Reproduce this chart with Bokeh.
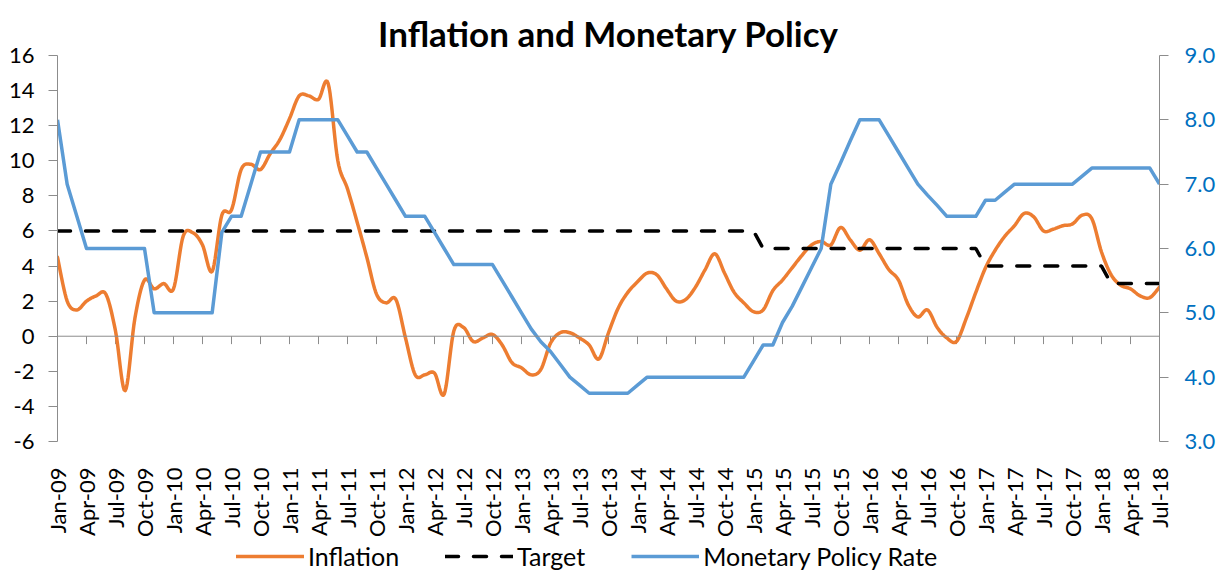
import numpy as np
import pandas as pd
from math import pi
from bokeh.plotting import figure
from bokeh.layouts import column
from bokeh.models import (Range1d, LinearAxis, FixedTicker, NumeralTickFormatter,
                          Span, Legend, LegendItem)
from bokeh.embed import file_html
from bokeh.resources import INLINE

# ---------------- data ----------------
months = list(pd.date_range("2009-01-01", periods=115, freq="MS").strftime("%b-%y"))

inflation = [
    4.5, 2.0, 1.5, 2.0, 2.3, 2.4, 0.3, -3.1, 1.0, 3.2, 2.7, 3.0,      # 2009
    2.7, 5.7, 5.9, 5.2, 3.7, 6.9, 7.2, 9.5, 9.8, 9.5, 10.4, 11.2,     # 2010
    12.4, 13.7, 13.7, 13.5, 14.4, 10.0, 8.4, 6.5, 4.5, 2.4, 1.9, 2.1, # 2011
    -0.1, -2.2, -2.2, -2.1, -3.3, 0.3, 0.5, -0.3, -0.1, 0.1, -0.5, -1.5,  # 2012
    -1.8, -2.2, -1.9, -0.4, 0.2, 0.2, -0.1, -0.5, -1.3, 0.2, 1.6, 2.5,    # 2013
    3.1, 3.6, 3.5, 2.7, 2.0, 2.1, 2.8, 3.8, 4.7, 3.6, 2.5, 1.9,       # 2014
    1.4, 1.5, 2.6, 3.2, 3.9, 4.6, 5.2, 5.4, 5.2, 6.2, 5.5, 4.9,       # 2015
    5.5, 4.7, 3.8, 3.2, 1.8, 1.1, 1.5, 0.5, -0.1, -0.3, 1.0, 2.5,     # 2016
    3.9, 4.9, 5.7, 6.3, 7.0, 6.8, 6.0, 6.1, 6.3, 6.4, 6.9, 6.7,       # 2017
    4.8, 3.5, 2.9, 2.7, 2.3, 2.2, 2.8,                                # 2018
]

target = [6.0] * 73 + [5.0] * 23 + [4.0] * 13 + [3.0] * 6

policy_rate = [
    8.0, 7.0, 6.5, 6.0, 6.0, 6.0, 6.0, 6.0, 6.0, 6.0, 5.0, 5.0,
    5.0, 5.0, 5.0, 5.0, 5.0, 6.25, 6.5, 6.5, 7.0, 7.5, 7.5, 7.5,
    7.5, 8.0, 8.0, 8.0, 8.0, 8.0, 7.75, 7.5, 7.5, 7.25, 7.0, 6.75,
    6.5, 6.5, 6.5, 6.25, 6.0, 5.75, 5.75, 5.75, 5.75, 5.75, 5.5, 5.25,
    5.0, 4.75, 4.55, 4.4, 4.2, 4.0, 3.875, 3.75, 3.75, 3.75, 3.75, 3.75,
    3.875, 4.0, 4.0, 4.0, 4.0, 4.0, 4.0, 4.0, 4.0, 4.0, 4.0, 4.0,
    4.25, 4.5, 4.5, 4.85, 5.1, 5.4, 5.7, 6.0, 7.0, 7.33, 7.67, 8.0,
    8.0, 8.0, 7.75, 7.5, 7.25, 7.0, 6.83, 6.67, 6.5, 6.5, 6.5, 6.5,
    6.75, 6.75, 6.875, 7.0, 7.0, 7.0, 7.0, 7.0, 7.0, 7.0, 7.125, 7.25,
    7.25, 7.25, 7.25, 7.25, 7.25, 7.25, 7.0,
]

series_names = ["Inflation", "Target", "Monetary Policy Rate"]
left_ticks = [-6, -4, -2, 0, 2, 4, 6, 8, 10, 12, 14, 16]
right_ticks = [3, 4, 5, 6, 7, 8, 9]
x_tick_step = 3

# ---------------- helpers ----------------
def smooth(xs, ys, n=10):
    """Excel-like smoothed line (cubic Bezier through the points)."""
    xs = np.asarray(xs, float)
    ys = np.asarray(ys, float)
    px = np.concatenate([[xs[0]], xs, [xs[-1]]])
    py = np.concatenate([[ys[0]], ys, [ys[-1]]])
    ox, oy = [], []
    t = np.linspace(0, 1, n, endpoint=False)
    for k in range(1, len(px) - 2):
        p0x, p1x, p2x, p3x = px[k - 1], px[k], px[k + 1], px[k + 2]
        p0y, p1y, p2y, p3y = py[k - 1], py[k], py[k + 1], py[k + 2]
        c1x, c1y = p1x + (p2x - p0x) / 6, p1y + (p2y - p0y) / 6
        c2x, c2y = p2x - (p3x - p1x) / 6, p2y - (p3y - p1y) / 6
        b0 = (1 - t) ** 3
        b1 = 3 * (1 - t) ** 2 * t
        b2 = 3 * (1 - t) * t ** 2
        b3 = t ** 3
        ox.extend(b0 * p1x + b1 * c1x + b2 * c2x + b3 * p2x)
        oy.extend(b0 * p1y + b1 * c1y + b2 * c2y + b3 * p2y)
    ox.append(xs[-1])
    oy.append(ys[-1])
    return ox, oy

idx = list(range(len(months)))
FONT = "Lato"
GREY = "#8C8C8C"
ORANGE = "#ED7D31"
BLUE = "#5B9BD5"
BLUE_TXT = "#0070C0"
STYLES = [dict(line_color=ORANGE, line_width=3.5, line_cap="round"),
          dict(line_color="black", line_width=3.5, line_dash="13 15", line_cap="round"),
          dict(line_color=BLUE, line_width=3.5)]

# ---------------- main figure ----------------
p = figure(width=1225, height=540, output_backend="svg", toolbar_location=None,
           x_range=Range1d(0, len(months) - 1), y_range=Range1d(left_ticks[0], left_ticks[-1]),
           min_border_left=57, min_border_right=66, min_border_top=55, min_border_bottom=96)
p.outline_line_color = None
p.xgrid.visible = False
p.ygrid.visible = False
p.background_fill_color = "white"

p.title.text = "Inflation and Monetary Policy"
p.title.align = "center"
p.title.text_font = FONT
p.title.text_font_style = "bold"
p.title.text_font_size = "35px"
p.title.text_color = "black"
p.title.standoff = 4

p.extra_y_ranges = {"rate": Range1d(right_ticks[0], right_ticks[-1])}

# bottom axis: labels only
xa = p.xaxis[0]
xa.ticker = FixedTicker(ticks=idx[::x_tick_step])
xa.major_label_overrides = {i: months[i] for i in idx[::x_tick_step]}
xa.major_label_orientation = pi / 2
xa.axis_line_color = None
xa.major_tick_line_color = None
xa.minor_tick_line_color = None
xa.major_label_standoff = 20
xa.major_label_text_font = FONT
xa.major_label_text_font_size = "22px"
xa.major_label_text_color = "black"

# left axis
ya = p.yaxis[0]
ya.ticker = FixedTicker(ticks=left_ticks)
ya.major_label_overrides = {t: str(t) for t in left_ticks}
ya.axis_line_color = GREY
ya.major_tick_line_color = GREY
ya.major_tick_in = 0
ya.major_tick_out = 9
ya.minor_tick_line_color = None
ya.major_label_standoff = 14
ya.major_label_text_font = FONT
ya.major_label_text_font_size = "22px"
ya.major_label_text_color = "black"

# right axis
ra = LinearAxis(y_range_name="rate", ticker=FixedTicker(ticks=right_ticks),
                formatter=NumeralTickFormatter(format="0.0"))
ra.axis_line_color = GREY
ra.major_tick_line_color = GREY
ra.major_tick_in = 0
ra.major_tick_out = 9
ra.minor_tick_line_color = None
ra.major_label_standoff = 16
ra.major_label_text_font = FONT
ra.major_label_text_font_size = "22px"
ra.major_label_text_color = BLUE_TXT
p.add_layout(ra, "right")

# zero line with category ticks
p.add_layout(Span(location=0, dimension="width", line_color=GREY, line_width=1))
tick_x = idx[::x_tick_step]
p.segment(x0=tick_x, y0=[0] * len(tick_x), x1=tick_x, y1=[-0.45] * len(tick_x),
          line_color=GREY, line_width=1)

# series
sx, sy = smooth(idx, inflation)
p.line(sx, sy, line_join="round", **STYLES[0])
p.line(idx, target, **STYLES[1])
p.line(idx, policy_rate, y_range_name="rate", line_join="round", **STYLES[2])

# ---------------- legend strip ----------------
# the series are drawn again here, outside the visible range, only to carry the legend glyphs
lg = figure(width=1225, height=31, output_backend="svg", toolbar_location=None,
            x_axis_type=None, y_axis_type=None,
            x_range=Range1d(-3, -2), y_range=Range1d(-3, -2),
            min_border_left=0, min_border_right=0, min_border_top=0, min_border_bottom=0)
lg.outline_line_color = None
lg.xgrid.visible = False
lg.ygrid.visible = False
items = []
for name, vals, st in zip(series_names, [inflation, target, policy_rate], STYLES):
    r = lg.line(idx, vals, **st)
    items.append(LegendItem(label=name, renderers=[r]))

legend = Legend(items=items, orientation="horizontal", location=(179, 0))
legend.glyph_width = 68
legend.label_standoff = 4
legend.spacing = 46
legend.padding = 0
legend.margin = 0
legend.border_line_color = None
legend.background_fill_alpha = 0
legend.label_text_font = FONT
legend.label_text_font_size = "25px"
legend.label_text_color = "black"
lg.add_layout(legend)

layout = column(p, lg, spacing=0)

open("out.html", "w").write(file_html(layout, INLINE))
